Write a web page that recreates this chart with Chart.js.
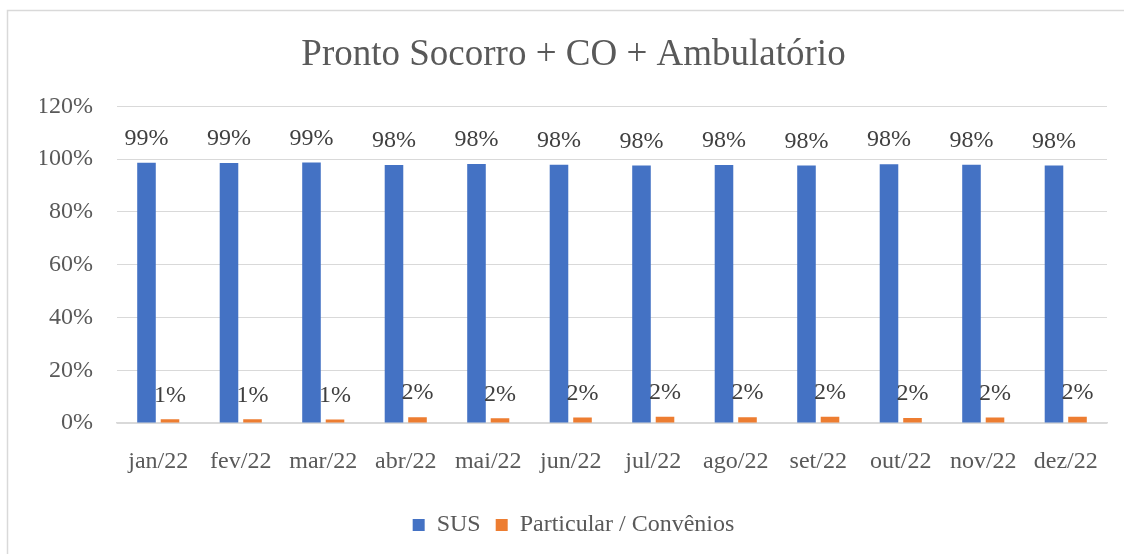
<!DOCTYPE html>
<html lang="pt-br">
<head>
  <meta charset="UTF-8" />
  <title>Pronto Socorro + CO + Ambulatório</title>
  <script src="https://cdn.jsdelivr.net/npm/chart.js"></script>
  <style>
    html, body {
      margin: 0;
      padding: 0;
      background: #fff;
      overflow: hidden;
    }
    .chart-wrapper {
      position: relative;
      width: 1124px;
      height: 554px;
    }
  </style>
</head>
<body>
<div class="chart-wrapper"><canvas id="grafico"></canvas></div>

<script>
  // dados (%)
  const meses = ['jan/22', 'fev/22', 'mar/22', 'abr/22', 'mai/22', 'jun/22', 'jul/22', 'ago/22', 'set/22', 'out/22', 'nov/22', 'dez/22'];
  const sus = [98.6, 98.5, 98.7, 97.8, 98.2, 97.9, 97.6, 97.8, 97.6, 98.1, 97.9, 97.6];
  const particular = [1.4, 1.4, 1.3, 2.2, 1.8, 2.1, 2.4, 2.2, 2.4, 1.9, 2.1, 2.4];
  const ticksY = [0, 20, 40, 60, 80, 100, 120];

  const fonte = 'Liberation Serif, "Times New Roman", serif';

  // moldura cinza do gráfico
  const moldura = {
    id: 'moldura',
    beforeDraw(chart) {
      const ctx = chart.ctx;
      ctx.save();
      ctx.fillStyle = '#fff';
      ctx.fillRect(0, 0, chart.width, chart.height);
      ctx.strokeStyle = '#d9d9d9';
      ctx.lineWidth = 1.5;
      ctx.strokeRect(7.5, 10.5, chart.width + 20, chart.height + 20);
      ctx.restore();
    }
  };

  // rótulos de dados acima das barras
  const rotulos = {
    id: 'rotulos',
    afterDatasetsDraw(chart) {
      const ctx = chart.ctx;
      ctx.save();
      ctx.font = '24px ' + fonte;
      ctx.fillStyle = '#404040';
      ctx.textAlign = 'center';
      ctx.textBaseline = 'middle';
      chart.data.datasets.forEach((ds, i) => {
        chart.getDatasetMeta(i).data.forEach((bar, j) => {
          ctx.fillText(Math.round(ds.data[j]) + '%', bar.x, bar.y - 24);
        });
      });
      ctx.restore();
    }
  };

  new Chart(document.getElementById('grafico'), {
    type: 'bar',
    data: {
      labels: meses,
      datasets: [
        { label: 'SUS', data: sus, backgroundColor: '#4472C4' },
        { label: 'Particular / Convênios', data: particular, backgroundColor: '#ED7D31' }
      ]
    },
    options: {
      responsive: true,
      maintainAspectRatio: false,
      animation: false,
      categoryPercentage: 0.57,
      barPercentage: 0.79,
      layout: { padding: { top: 0, left: 40, right: 17, bottom: 7 } },
      plugins: {
        title: {
          display: true,
          text: 'Pronto Socorro + CO + Ambulatório',
          color: '#595959',
          font: { family: fonte, size: 37, weight: 'normal' },
          padding: { top: 33, bottom: 29 }
        },
        legend: {
          position: 'bottom',
          labels: {
            color: '#595959',
            font: { family: fonte, size: 24 },
            boxWidth: 12,
            boxHeight: 12,
            padding: 15
          }
        },
        tooltip: { enabled: false }
      },
      scales: {
        x: {
          grid: { display: false },
          border: { color: '#d9d9d9', width: 1.5 },
          ticks: { color: '#595959', font: { family: fonte, size: 24 }, padding: 16 },
          afterFit(scale) { scale.height = 75; }
        },
        y: {
          min: 0,
          max: 120,
          afterBuildTicks(scale) { scale.ticks = ticksY.map(v => ({ value: v })); },
          afterFit(scale) { scale.width = 77; },
          grid: { color: '#d9d9d9', drawTicks: false },
          border: { display: false },
          ticks: {
            color: '#595959',
            font: { family: fonte, size: 24 },
            padding: 24,
            callback: v => v + '%'
          }
        }
      }
    },
    plugins: [moldura, rotulos]
  });
</script>
</body>
</html>
